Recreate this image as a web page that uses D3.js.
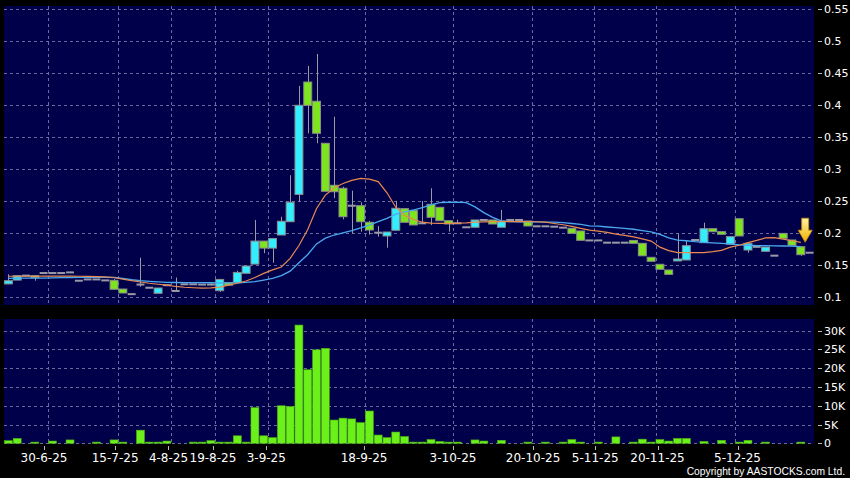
<!DOCTYPE html>
<html>
<head>
<meta charset="utf-8">
<script src="https://cdn.jsdelivr.net/npm/d3@7"></script>
<style>
body { margin:0; background:#000; }
svg { display:block; }
</style>
</head>
<body>
<svg id="chart" width="850" height="478"></svg>
<script>
// data (one entry per trading day shown)
var opens = [0.120,0.126,0.133,0.133,0.137,0.137,0.137,0.138,0.125,0.127,
	0.127,0.1255,0.1256,0.112,0.104,0.119,0.114,0.1053,0.118,0.109,
	0.1194,0.1194,0.119,0.119,0.1094,0.122,0.122,0.1366,0.151,0.187,
	0.176,0.1965,0.2173,0.260,0.4358,0.4057,0.340,0.2743,0.2696,0.2423,
	0.2423,0.2164,0.2001,0.195,0.2039,0.2377,0.2346,0.2148,0.2445,0.2398,
	0.2189,0.2148,0.2086,0.2086,0.22,0.22,0.2086,0.22,0.22,0.2184,
	0.2101,0.2101,0.2095,0.208,0.207,0.2028,0.188,0.188,0.1845,0.1845,
	0.1845,0.188,0.1835,0.1616,0.1507,0.1418,0.157,0.1574,0.1887,0.1845,
	0.2064,0.2017,0.182,0.222,0.173,0.178,0.171,0.1642,0.199,0.1887,
	0.1782,0.1688];
var highs = [0.135,0.133,0.133,0.133,0.137,0.137,0.137,0.139,0.125,0.127,
	0.127,0.1255,0.1275,0.112,0.104,0.161,0.114,0.1136,0.118,0.130,
	0.1194,0.1194,0.119,0.121,0.128,0.122,0.1407,0.148,0.220,0.187,
	0.191,0.225,0.290,0.4296,0.4609,0.4797,0.340,0.3816,0.272,0.2658,
	0.2477,0.2185,0.2105,0.2012,0.250,0.2377,0.2346,0.2497,0.2696,0.2398,
	0.2189,0.2205,0.2086,0.22,0.22,0.22,0.2356,0.22,0.22,0.2184,
	0.2101,0.2101,0.2095,0.208,0.207,0.2028,0.188,0.188,0.1845,0.1845,
	0.1845,0.188,0.1835,0.1616,0.1507,0.1418,0.199,0.1887,0.1887,0.2158,
	0.2064,0.2017,0.1939,0.222,0.1835,0.178,0.1777,0.1642,0.199,0.1887,
	0.1782,0.1688];
var lows = [0.120,0.126,0.133,0.125,0.137,0.137,0.137,0.137,0.125,0.127,
	0.127,0.1255,0.1106,0.1055,0.104,0.1156,0.114,0.1053,0.118,0.109,
	0.1194,0.1194,0.119,0.1175,0.1075,0.118,0.122,0.1366,0.151,0.168,
	0.153,0.1965,0.2173,0.2486,0.3556,0.340,0.2649,0.254,0.221,0.199,
	0.2017,0.197,0.1939,0.1767,0.2039,0.2164,0.2122,0.2148,0.212,0.2189,
	0.2017,0.2148,0.2086,0.2086,0.22,0.2137,0.2086,0.22,0.22,0.2106,
	0.2101,0.2101,0.2095,0.208,0.1992,0.1882,0.188,0.188,0.1845,0.1845,
	0.1845,0.1835,0.164,0.1554,0.1429,0.135,0.157,0.1574,0.1887,0.1845,
	0.2017,0.1976,0.182,0.195,0.1688,0.178,0.171,0.1642,0.1913,0.1804,
	0.164,0.1688];
var closes = [0.125,0.133,0.133,0.130,0.137,0.137,0.137,0.138,0.125,0.127,
	0.127,0.1255,0.1116,0.1058,0.104,0.119,0.114,0.1136,0.118,0.109,
	0.1194,0.1194,0.119,0.119,0.127,0.118,0.138,0.148,0.187,0.176,
	0.191,0.218,0.2477,0.3994,0.3994,0.3556,0.2649,0.2642,0.2251,0.2423,
	0.2173,0.2043,0.2001,0.2012,0.2383,0.2164,0.2122,0.2148,0.2242,0.2189,
	0.2137,0.2148,0.2086,0.22,0.22,0.2137,0.2184,0.22,0.22,0.2106,
	0.2101,0.2101,0.2095,0.208,0.1992,0.1882,0.188,0.188,0.1845,0.1845,
	0.1845,0.1835,0.164,0.1554,0.1429,0.135,0.159,0.1798,0.1887,0.2064,
	0.2017,0.1976,0.1939,0.195,0.1835,0.178,0.1777,0.1642,0.1913,0.1804,
	0.1657,0.1688];
var volumes = [700,1300,0,300,0,600,0,900,0,0,
	300,0,900,300,0,3500,300,300,600,0,
	0,100,100,700,300,200,2000,200,9500,2000,
	1500,10000,9800,31500,19600,24900,25300,6200,6700,6500,
	5500,8600,2200,1500,3000,1800,300,300,1000,500,
	200,200,0,900,600,0,800,0,0,100,
	0,100,0,300,1000,300,0,100,0,1700,
	0,200,1100,300,1000,600,1300,1300,0,500,
	0,800,0,100,800,0,200,0,0,0,
	300,0];
var ma10 = [0.132,0.132,0.132,0.132,0.1322,0.1322,0.1322,0.1322,0.132,0.1318,
	0.1315,0.131,0.130,0.1275,0.125,0.123,0.121,0.1195,0.118,0.116,
	0.1148,0.114,0.1135,0.1138,0.115,0.118,0.121,0.1245,0.130,0.1365,
	0.142,0.1465,0.160,0.180,0.205,0.238,0.259,0.270,0.277,0.282,
	0.285,0.284,0.280,0.2625,0.240,0.227,0.221,0.2165,0.215,0.2148,
	0.2148,0.215,0.2155,0.2165,0.217,0.2173,0.2173,0.2173,0.2173,0.2173,
	0.2172,0.2165,0.2145,0.2125,0.210,0.207,0.204,0.2025,0.2005,0.198,
	0.196,0.1935,0.1905,0.187,0.1775,0.172,0.169,0.1688,0.1688,0.169,
	0.1705,0.1725,0.1775,0.1805,0.1845,0.188,0.192,0.1925,0.190,0.1875,
	0.1851];
var ma20 = [0.1288,0.1289,0.129,0.129,0.1292,0.1295,0.1298,0.130,0.1302,0.1303,
	0.1303,0.1302,0.130,0.1285,0.1265,0.125,0.124,0.1232,0.1225,0.1222,
	0.122,0.122,0.122,0.1218,0.1216,0.1215,0.1218,0.1225,0.1235,0.126,
	0.1285,0.133,0.140,0.153,0.166,0.1825,0.1915,0.1965,0.200,0.2035,
	0.2075,0.212,0.2173,0.2225,0.229,0.2325,0.2356,0.2395,0.2435,0.247,
	0.2477,0.248,0.247,0.2405,0.2315,0.224,0.2185,0.2173,0.2172,0.2172,
	0.217,0.2168,0.2165,0.2158,0.2145,0.213,0.2108,0.2103,0.209,0.208,
	0.207,0.2055,0.2035,0.2015,0.1975,0.192,0.1885,0.1875,0.186,0.185,
	0.1842,0.1835,0.1825,0.1812,0.1805,0.180,0.1798,0.1795,0.1793,0.179,
	0.1782];
var tickIdx = [4,12,18,23,29,40,50,59,66,73,82];
var tickLabels = ["30-6-25","15-7-25","4-8-25","19-8-25","3-9-25","18-9-25","3-10-25","20-10-25","5-11-25","20-11-25","5-12-25"];
var priceTicks = [0.1,0.15,0.2,0.25,0.3,0.35,0.4,0.45,0.5,0.55];
var priceLabels = ["0.1","0.15","0.2","0.25","0.3","0.35","0.4","0.45","0.5","0.55"];
var volTicks = [0,5000,10000,15000,20000,25000,30000];
var volLabels = ["0","5K","10K","15K","20K","25K","30K"];

var svg = d3.select("#chart");
var n = closes.length;

// layout
var plotL = 4, plotR = 814;
var priceTop = 6, priceBot = 305;
var volTop = 319, volBot = 443.5;

var upCol = "#33eeff", downCol = "#7de41e", volCol = "#6cf01a";
var gridCol = "#6a6a9c";
var fontF = "DejaVu Sans, sans-serif";

// scales
var x = d3.scaleLinear().domain([-0.5, n - 0.5]).range([plotL, plotR]);
var step = x(1) - x(0);
var bw = step * 0.9;
var xTick = d3.scaleLinear().domain([-0.5, n - 0.5]).range([plotL, 822]);

var yP = d3.scaleLinear().domain([0.1, 0.55]).range([296.7, 9]);
var yV = d3.scaleLinear().domain([0, 30000]).range([443.3, 330.7]);

svg.append("rect").attr("width", 850).attr("height", 478).attr("fill", "#000");

// panels
svg.append("rect").attr("x", plotL).attr("y", priceTop)
	.attr("width", plotR - plotL).attr("height", priceBot - priceTop).attr("fill", "#00004a");
svg.append("rect").attr("x", plotL).attr("y", volTop)
	.attr("width", plotR - plotL).attr("height", volBot - volTop).attr("fill", "#00004a");

function crisp(v) { return Math.round(v) + 0.5; }

//grid
var grid = svg.append("g").attr("stroke", gridCol).attr("stroke-width", 1)
	.attr("stroke-dasharray", "3,3").attr("fill", "none");

grid.selectAll("line.hp").data(priceTicks).enter().append("line")
	.attr("class", "hp")
	.attr("x1", plotL).attr("x2", plotR)
	.attr("y1", function(d){ return crisp(yP(d)); })
	.attr("y2", function(d){ return crisp(yP(d)); });

grid.selectAll("line.hv").data(volTicks).enter().append("line")
	.attr("class", "hv")
	.attr("x1", plotL).attr("x2", plotR)
	.attr("y1", function(d){ return crisp(yV(d)); })
	.attr("y2", function(d){ return crisp(yV(d)); });

grid.selectAll("line.vp").data(tickIdx).enter().append("line")
	.attr("class", "vp")
	.attr("x1", function(d){ return crisp(x(d) + step / 2); })
	.attr("x2", function(d){ return crisp(x(d) + step / 2); })
	.attr("y1", priceTop).attr("y2", priceBot);

grid.selectAll("line.vv").data(tickIdx).enter().append("line")
	.attr("class", "vv")
	.attr("x1", function(d){ return crisp(x(d) + step / 2); })
	.attr("x2", function(d){ return crisp(x(d) + step / 2); })
	.attr("y1", volTop).attr("y2", volBot);

// candles
var idx = d3.range(n);
var candles = svg.append("g");

candles.selectAll("line.wick").data(idx.filter(function(i){ return highs[i] > lows[i]; }))
	.enter().append("line")
	.attr("class", "wick")
	.attr("x1", function(i){ return crisp(x(i)); })
	.attr("x2", function(i){ return crisp(x(i)); })
	.attr("y1", function(i){ return yP(highs[i]); })
	.attr("y2", function(i){ return yP(lows[i]); })
	.attr("stroke", "#9a9aa2").attr("stroke-width", 1);

candles.selectAll("rect.body").data(idx).enter().append("rect")
	.attr("class", "body")
	.attr("x", function(i){ return x(i) - bw / 2; })
	.attr("width", bw)
	.attr("y", function(i){
		if (opens[i] == closes[i]) return yP(opens[i]) - 1;
		return yP(Math.max(opens[i], closes[i]));
	})
	.attr("height", function(i){
		if (opens[i] == closes[i]) return 2;
		return Math.max(2, Math.abs(yP(opens[i]) - yP(closes[i])));
	})
	.attr("fill", function(i){
		if (opens[i] == closes[i]) return "#9a9aa6";
		return closes[i] > opens[i] ? upCol : downCol;
	})
	.attr("stroke", function(i){ return opens[i] == closes[i] ? "none" : "#8c8c8c"; })
	.attr("stroke-width", 1);

// moving averages
var line = d3.line()
	.x(function(d, i){ return x(i); })
	.y(function(d){ return yP(d); });

svg.append("path").datum(ma20).attr("d", line)
	.attr("fill", "none").attr("stroke", "#4aa8ee").attr("stroke-width", 1.3);
svg.append("path").datum(ma10).attr("d", line)
	.attr("fill", "none").attr("stroke", "#e88a50").attr("stroke-width", 1.2);

// volume
svg.append("g").selectAll("rect").data(idx.filter(function(i){ return volumes[i] > 0; }))
	.enter().append("rect")
	.attr("x", function(i){ return x(i) - bw / 2; })
	.attr("width", bw)
	.attr("y", function(i){ return Math.min(yV(volumes[i]), yV(0) - 1.2); })
	.attr("height", function(i){ return Math.max(1.2, yV(0) - yV(volumes[i])); })
	.attr("fill", volCol)
	.attr("stroke", "#4bb012").attr("stroke-width", 0.6);

// last-day arrow
var ai = n - 2;
var ax = x(ai) + step / 2;
var tip = yP(highs[ai]) - 4.5;
var defs = svg.append("defs");
var grad = defs.append("linearGradient").attr("id", "arrowG")
	.attr("x1", 0).attr("y1", 0).attr("x2", 0).attr("y2", 1);
grad.append("stop").attr("offset", "0%").attr("stop-color", "#fff2a0");
grad.append("stop").attr("offset", "100%").attr("stop-color", "#f0b000");
svg.append("path")
	.attr("d", "M" + (ax - 3.5) + "," + (tip - 24) + "H" + (ax + 3.5) + "V" + (tip - 12) +
		"H" + (ax + 7) + "L" + ax + "," + tip + "L" + (ax - 7) + "," + (tip - 12) +
		"H" + (ax - 3.5) + "Z")
	.attr("fill", "url(#arrowG)").attr("stroke", "#c88a00").attr("stroke-width", 0.8);

// right axes
var axisR = svg.append("g").attr("font-family", fontF).attr("font-size", "11px").attr("fill", "#fff");

axisR.selectAll("line.pt").data(priceTicks).enter().append("line")
	.attr("class", "pt")
	.attr("x1", 818).attr("x2", 822)
	.attr("y1", function(d){ return crisp(yP(d)); })
	.attr("y2", function(d){ return crisp(yP(d)); })
	.attr("stroke", "#bbb");
axisR.selectAll("text.pl").data(priceTicks).enter().append("text")
	.attr("class", "pl")
	.attr("x", 824)
	.attr("y", function(d){ return yP(d) + 4; })
	.text(function(d, i){ return priceLabels[i]; });

axisR.selectAll("line.vt").data(volTicks).enter().append("line")
	.attr("class", "vt")
	.attr("x1", 818).attr("x2", 822)
	.attr("y1", function(d){ return crisp(yV(d)); })
	.attr("y2", function(d){ return crisp(yV(d)); })
	.attr("stroke", "#bbb");
axisR.selectAll("text.vl").data(volTicks).enter().append("text")
	.attr("class", "vl")
	.attr("x", 824)
	.attr("y", function(d){ return yV(d) + 4; })
	.text(function(d, i){ return volLabels[i]; });

// x axis
var axisB = svg.append("g").attr("font-family", fontF).attr("font-size", "12px").attr("fill", "#fff");
axisB.selectAll("line").data(tickIdx).enter().append("line")
	.attr("x1", function(d){ return crisp(xTick(d)); })
	.attr("x2", function(d){ return crisp(xTick(d)); })
	.attr("y1", 446).attr("y2", 450)
	.attr("stroke", "#bbb");
axisB.selectAll("text").data(tickIdx).enter().append("text")
	.attr("x", function(d){ return xTick(d); })
	.attr("y", 461.5)
	.attr("text-anchor", "middle")
	.text(function(d, i){ return tickLabels[i]; });

svg.append("text")
	.attr("x", 845).attr("y", 474.5)
	.attr("text-anchor", "end")
	.attr("font-family", "Liberation Sans, Arial, sans-serif").attr("font-size", "10.3px").attr("fill", "#fff")
	.text("Copyright by AASTOCKS.com Ltd.");
</script>
</body>
</html>
